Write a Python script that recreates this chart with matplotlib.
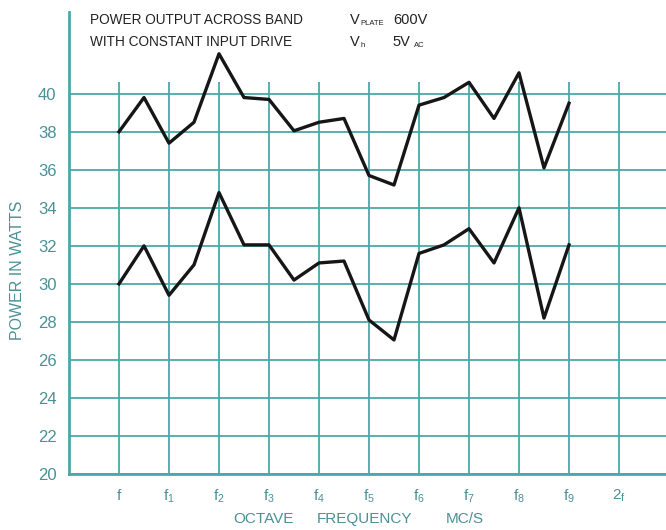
import matplotlib
matplotlib.use("Agg")
import matplotlib.pyplot as plt

# chart data
x_labels = [r"$\mathregular{f}$", r"$\mathregular{f_1}$", r"$\mathregular{f_2}$",
            r"$\mathregular{f_3}$", r"$\mathregular{f_4}$", r"$\mathregular{f_5}$",
            r"$\mathregular{f_6}$", r"$\mathregular{f_7}$", r"$\mathregular{f_8}$",
            r"$\mathregular{f_9}$", r"$\mathregular{2_f}$"]
x_points = [0, 0.5, 1, 1.5, 2, 2.5, 3, 3.5, 4, 4.5, 5, 5.5, 6, 6.5, 7, 7.5, 8, 8.5, 9]
upper_watts = [38.0, 39.8, 37.4, 38.5, 42.1, 39.8, 39.7, 38.05, 38.5, 38.7,
               35.7, 35.2, 39.4, 39.8, 40.6, 38.7, 41.1, 36.1, 39.5]
lower_watts = [30.0, 32.0, 29.4, 31.0, 34.8, 32.05, 32.05, 30.2, 31.1, 31.2,
               28.1, 27.05, 31.6, 32.05, 32.9, 31.1, 34.0, 28.2, 32.05]
y_ticks = [20, 22, 24, 26, 28, 30, 32, 34, 36, 38, 40]
x_title = ["OCTAVE", "FREQUENCY", "MC/S"]

grid_col = "#4aa8a8"
text_col = "#4a9096"
ink = "#222222"
font = ["Liberation Sans", "DejaVu Sans"]

fig = plt.figure(figsize=(6.66, 5.30), dpi=100)
ax = fig.add_axes([0.1036, 0.1057, 0.8964, 0.8717])
ax.set_xlim(-1, 10.94)
ax.set_ylim(20, 44.3)

# grid drawn by hand: vertical lines stop just above the 40 W line
for yv in y_ticks:
    ax.axhline(yv, color=grid_col, lw=1.3, zorder=1)
ax.vlines(range(len(x_labels)), 20, 40.6, color=grid_col, lw=1.3, zorder=1)

ax.plot(x_points, upper_watts, color="#161616", lw=2.4, zorder=3)
ax.plot(x_points, lower_watts, color="#161616", lw=2.4, zorder=3)

for side in ["top", "right"]:
    ax.spines[side].set_visible(False)
for side in ["left", "bottom"]:
    ax.spines[side].set_color(grid_col)
    ax.spines[side].set_linewidth(2)

ax.set_yticks(y_ticks)
ax.set_yticklabels([str(v) for v in y_ticks], family=font, fontsize=12, color=text_col)
ax.set_xticks(range(len(x_labels)))
ax.set_xticklabels(x_labels, family=font, fontsize=11, color=text_col)
ax.tick_params(axis="both", length=0)
ax.tick_params(axis="y", pad=9)
ax.tick_params(axis="x", pad=10)

# x title is three spaced words
for word, xc in zip(x_title, [0.396, 0.548, 0.698]):
    fig.text(xc, 0.008, word, ha="center", va="bottom",
             family=font, fontsize=11, color=text_col)
fig.text(0.026, 0.49, "POWER IN WATTS", rotation=90, ha="center", va="center",
         family=font, fontsize=11.5, color=text_col)

# header text
fig.text(0.135, 0.962, "POWER OUTPUT ACROSS BAND", ha="left", va="center",
         family=font, fontsize=9.8, color=ink)
fig.text(0.135, 0.921, "WITH CONSTANT INPUT DRIVE", ha="left", va="center",
         family=font, fontsize=9.8, color=ink)
fig.text(0.525, 0.962, "V", ha="left", va="center", family=font, fontsize=10.5, color=ink)
fig.text(0.541, 0.955, "PLATE", ha="left", va="center", family=font, fontsize=5.5, color=ink)
fig.text(0.59, 0.962, "600V", ha="left", va="center", family=font, fontsize=10.5, color=ink)
fig.text(0.525, 0.921, "V", ha="left", va="center", family=font, fontsize=10.5, color=ink)
fig.text(0.541, 0.914, "h", ha="left", va="center", family=font, fontsize=5.5, color=ink)
fig.text(0.59, 0.921, "5V", ha="left", va="center", family=font, fontsize=10.5, color=ink)
fig.text(0.622, 0.914, "AC", ha="left", va="center", family=font, fontsize=5.5, color=ink)

fig.savefig("out.png", dpi=100)
